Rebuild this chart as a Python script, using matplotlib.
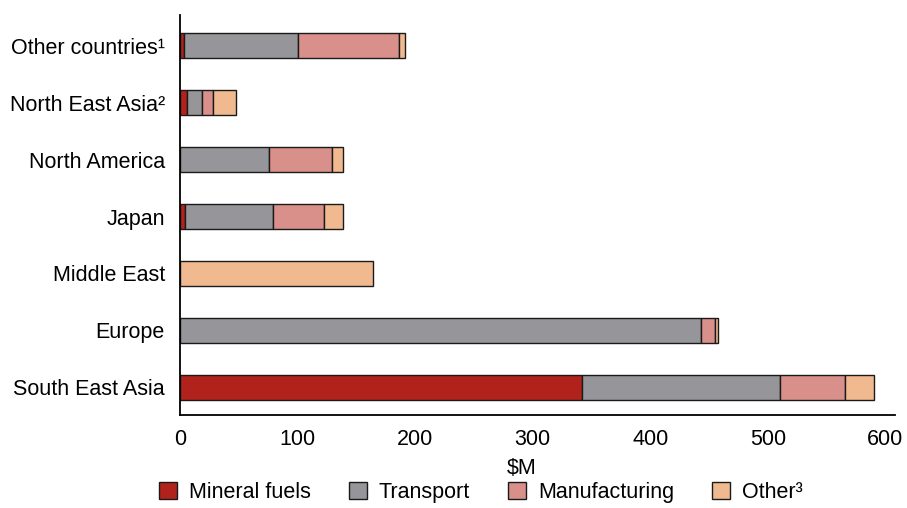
import matplotlib
matplotlib.use("Agg")
import matplotlib.pyplot as plt
import numpy as np

plt.rcParams["font.family"] = ["Liberation Sans", "DejaVu Sans"]

regions = ["South East Asia", "Europe", "Middle East", "Japan",
           "North America", "North East Asia\u00b2", "Other countries\u00b9"]
mineral_fuels = [342, 0, 0, 4.5, 0, 5.5, 3]
transport = [168, 443, 0, 75, 76, 13, 97]
manufacturing = [56, 12, 0, 43, 53, 9.5, 86]
other = [24, 3, 164, 16, 10, 19.5, 5]

series = ["Mineral fuels", "Transport", "Manufacturing", "Other\u00b3"]
colors = ["#B2221C", "#96969A", "#D98F8A", "#F1B98F"]

fig = plt.figure(figsize=(9.07, 5.08), dpi=100)
ax = fig.add_axes([0.1985, 0.183, 0.788, 0.787])

y = np.arange(len(regions))
left = np.zeros(len(regions))
for vals, name, col in zip([mineral_fuels, transport, manufacturing, other], series, colors):
    vals = np.array(vals, dtype=float)
    ax.barh(y, vals, left=left, height=0.44, color=col, edgecolor="#1a1a1a",
            linewidth=1, label=name)
    left += vals

ax.set_xlim(0, 608)
ax.set_ylim(-0.49, 6.54)
ax.set_yticks(y)
ax.set_yticklabels(regions, fontsize=15.5)
ax.set_xticks([0, 100, 200, 300, 400, 500, 600])
ax.tick_params(axis="x", labelsize=15.5, length=0, pad=10)
ax.tick_params(axis="y", length=0, pad=11)
ax.set_xlabel("$M", fontsize=15.5)
ax.xaxis.set_label_coords(0.478, -0.108)

for s in ["top", "right"]:
    ax.spines[s].set_visible(False)
ax.spines["left"].set_linewidth(1.3)
ax.spines["bottom"].set_linewidth(1.3)

fig.legend(loc="center", bbox_to_anchor=(0.53, 0.03), ncol=4, frameon=False,
           fontsize=15.5, handlelength=0.85, handleheight=0.85, columnspacing=1.75,
           handletextpad=0.55, borderpad=0.1)

fig.savefig("out.png", dpi=100)
